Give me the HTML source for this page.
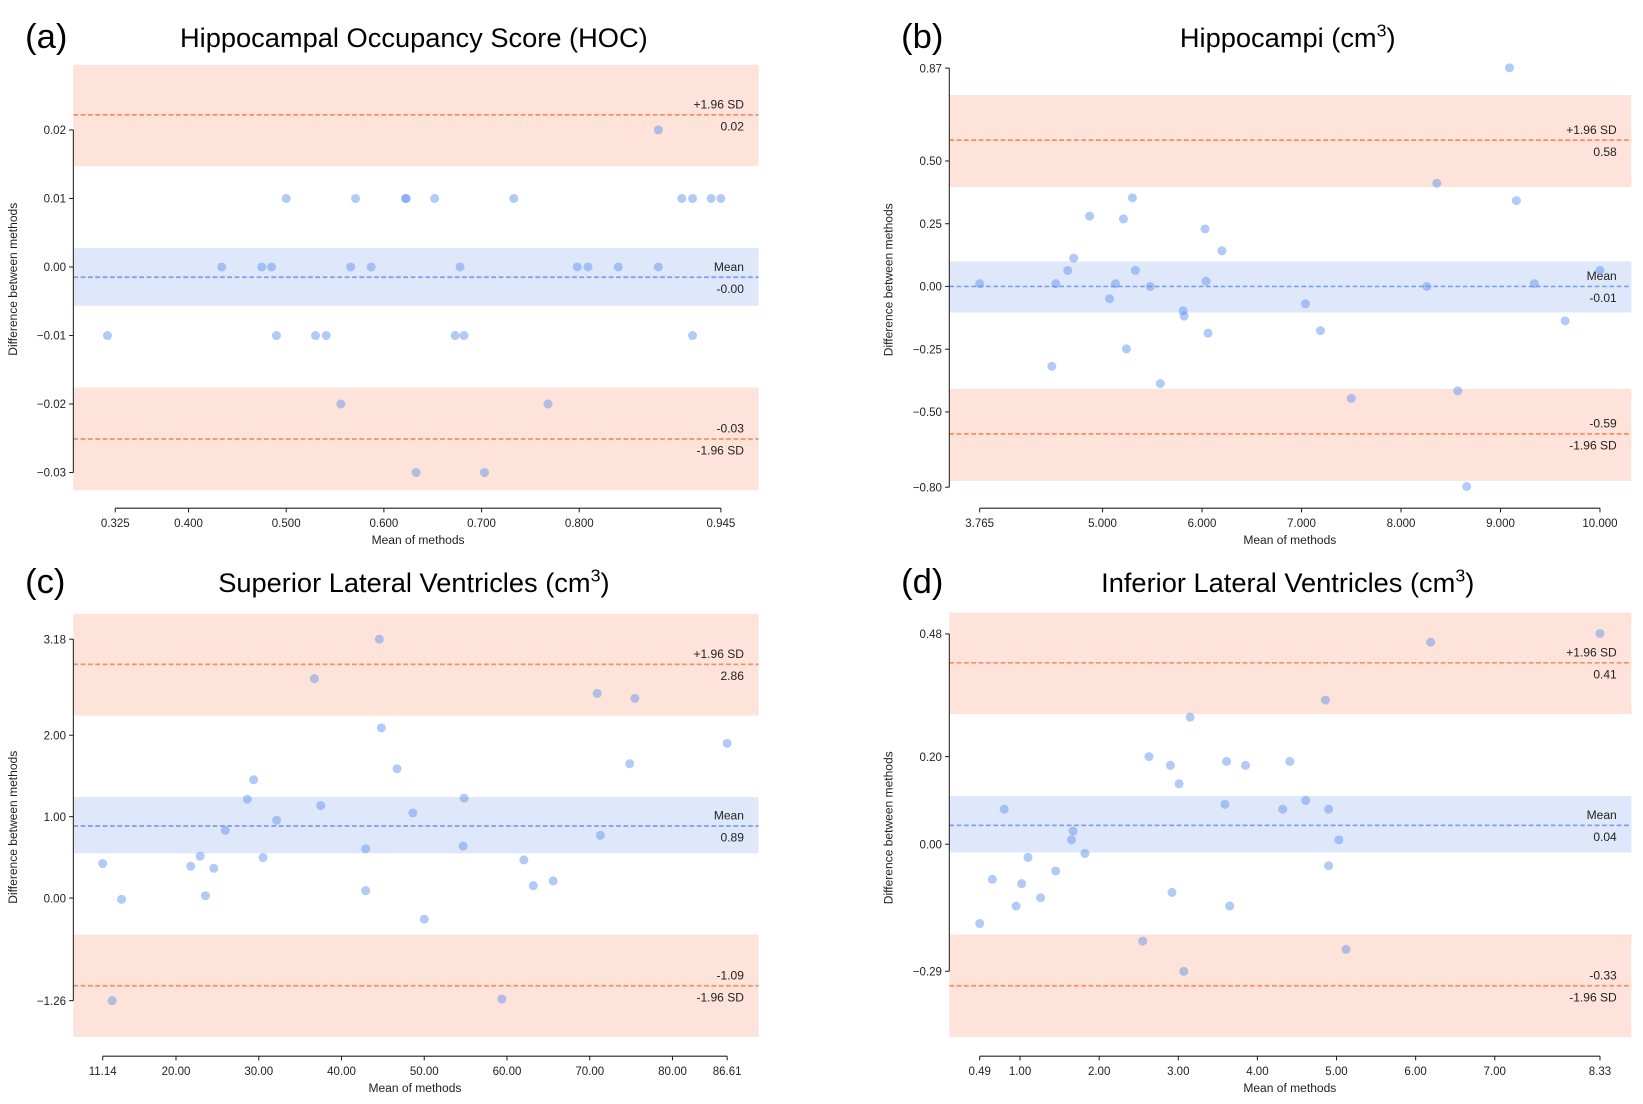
<!DOCTYPE html>
<html><head><meta charset="utf-8"><style>
html,body{margin:0;padding:0;background:#fff;}
svg{display:block;font-family:"Liberation Sans",sans-serif;}
</style></head><body>
<svg id="fig" width="1643" height="1104" viewBox="0 0 1643 1104" xmlns="http://www.w3.org/2000/svg"><g id="root" transform="scale(1.0478)"></g></svg>
<script>
// ---- data ----
const aMeans = [0.500,0.571,0.622,0.623,0.652,0.733,0.905,0.916,0.935,0.945, 0.434,0.475,0.485,0.566,0.587,0.678,0.798,0.809,0.840,0.881, 0.317,0.490,0.530,0.541,0.673,0.682,0.916, 0.881,0.556,0.768,0.633,0.703];
const aDiffs = [0.01,0.01,0.01,0.01,0.01,0.01,0.01,0.01,0.01,0.01, 0,0,0,0,0,0,0,0,0,0, -0.01,-0.01,-0.01,-0.01,-0.01,-0.01,-0.01, 0.02,-0.02,-0.02,-0.03,-0.03];
const aXTicks = [0.325,0.4,0.5,0.6,0.7,0.8,0.945];
const aXTickLabels = ["0.325","0.400","0.500","0.600","0.700","0.800","0.945"];
const aYTicks = [0.02,0.01,0,-0.01,-0.02,-0.03];
const aYTickLabels = ["0.02","0.01","0.00","\u22120.01","\u22120.02","\u22120.03"];
const aLimits = [0.0222,-0.0015,-0.0251];
const aLimitLabels = ["0.02","-0.00","-0.03"];
const aBands = [[0.0295,0.0147],[0.00275,-0.00566],[-0.0176,-0.0326]];

const bMeans = [3.765,4.49,4.53,4.65,4.71,4.87,5.07,5.13,5.21,5.24,5.30,5.33,5.48,5.58,5.81,5.82,6.03,6.04,6.06,6.20,7.04,7.19,7.50,8.26,8.36,8.57,8.66,9.09,9.16,9.34,9.65,10.0];
const bDiffs = [0.011,-0.318,0.011,0.064,0.113,0.280,-0.049,0.011,0.269,-0.249,0.353,0.064,0.0,-0.387,-0.097,-0.118,0.229,0.021,-0.186,0.142,-0.069,-0.176,-0.446,0.0,0.411,-0.416,-0.797,0.871,0.342,0.011,-0.137,0.064];
const bXTicks = [3.765,5,6,7,8,9,10];
const bXTickLabels = ["3.765","5.000","6.000","7.000","8.000","9.000","10.000"];
const bYTicks = [0.87,0.5,0.25,0,-0.25,-0.5,-0.8];
const bYTickLabels = ["0.87","0.50","0.25","0.00","\u22120.25","\u22120.50","\u22120.80"];
const bLimits = [0.583,0.0,-0.5875];
const bLimitLabels = ["0.58","-0.01","-0.59"];
const bBands = [[0.7625,0.396],[0.1,-0.104],[-0.408,-0.775]];

const cMeans = [11.14,12.28,13.42,21.78,22.92,23.56,24.57,25.96,28.62,29.38,30.52,32.16,36.72,37.49,42.92,42.92,44.57,44.82,46.72,48.62,50.01,54.70,54.82,59.38,62.04,63.18,65.58,70.90,71.28,74.83,75.46,86.61];
const cDiffs = [0.424,-1.26,-0.016,0.391,0.514,0.029,0.366,0.831,1.214,1.453,0.498,0.955,2.695,1.136,0.605,0.091,3.18,2.091,1.588,1.045,-0.259,0.638,1.226,-1.24,0.469,0.152,0.210,2.514,0.770,1.650,2.453,1.90];
const cXTicks = [11.14,20,30,40,50,60,70,80,86.61];
const cXTickLabels = ["11.14","20.00","30.00","40.00","50.00","60.00","70.00","80.00","86.61"];
const cYTicks = [3.18,2,1,0,-1.26];
const cYTickLabels = ["3.18","2.00","1.00","0.00","\u22121.26"];
const cLimits = [2.87,0.885,-1.077];
const cLimitLabels = ["2.86","0.89","-1.09"];
const cBands = [[3.49,2.24],[1.24,0.55],[-0.45,-1.705]];

const dMeans = [0.49,0.65,0.80,0.95,1.02,1.10,1.26,1.45,1.65,1.67,1.82,2.55,2.63,2.90,2.92,3.01,3.07,3.15,3.59,3.61,3.65,3.85,4.32,4.41,4.61,4.86,4.90,4.90,5.03,5.12,6.19,8.33];
const dDiffs = [-0.181,-0.080,0.080,-0.141,-0.090,-0.030,-0.122,-0.061,0.010,0.030,-0.021,-0.221,0.200,0.180,-0.110,0.138,-0.290,0.290,0.091,0.189,-0.141,0.180,0.080,0.189,0.100,0.329,0.080,-0.049,0.010,-0.240,0.461,0.481];
const dXTicks = [0.49,1,2,3,4,5,6,7,8.33];
const dXTickLabels = ["0.49","1.00","2.00","3.00","4.00","5.00","6.00","7.00","8.33"];
const dYTicks = [0.48,0.2,0,-0.29];
const dYTickLabels = ["0.48","0.20","0.00","\u22120.29"];
const dLimits = [0.414,0.043,-0.323];
const dLimitLabels = ["0.41","0.04","-0.33"];
const dBands = [[0.529,0.297],[0.110,-0.019],[-0.206,-0.440]];

const NS = "http://www.w3.org/2000/svg";
const root = document.getElementById('root');
function mk(tag, attrs, parent, text){
  const e = document.createElementNS(NS, tag);
  for (const k in attrs) e.setAttribute(k, attrs[k]);
  if (text !== undefined) e.textContent = text;
  (parent||root).appendChild(e);
  return e;
}

function panel(p){
  const g = mk('g', {});
  
  
  const xs = v => p.xPx[0] + (v - p.xTicks[0]) / (p.xTicks[p.xTicks.length-1] - p.xTicks[0]) * (p.xPx[1]-p.xPx[0]);
  const ys = v => p.yPx[0] + (v - p.yTicks[0]) / (p.yTicks[p.yTicks.length-1] - p.yTicks[0]) * (p.yPx[1]-p.yPx[0]);
  const bandNames = ['upper-loa-band','mean-band','lower-loa-band'];
  p.bands.forEach((b, i) => {
    const r = mk('rect', {x:p.bx[0], y:ys(b[0]), width:p.bx[1]-p.bx[0], height:ys(b[1])-ys(b[0]), fill: i===1 ? '#dfe8fa' : '#fee3da'}, g);
    
    
  });
  const lineNames = ['upper-loa-line','mean-line','lower-loa-line'];
  p.limits.forEach((v, i) => {
    const l = mk('line', {x1:p.bx[0], x2:p.bx[1], y1:ys(v), y2:ys(v), stroke: i===1 ? '#7b9ff0' : '#fc8d62', 'stroke-width':1.6, 'stroke-dasharray':'4.5,2.5'}, g);
    
    
  });
  const tx = p.bx[1] - 14;
  const topTxt = ['+1.96 SD','Mean','-1.96 SD'];
  p.limits.forEach((v, i) => {
    const y = ys(v);
    const isLower = i === 2;
    const t1 = mk('text', {x:tx, y: isLower ? y+15 : y-6, 'font-size':11.5, 'text-anchor':'end', fill:'#222'}, g, topTxt[i]);
    
    
    const t2 = mk('text', {x:tx, y: isLower ? y-6 : y+15, 'font-size':11.5, 'text-anchor':'end', fill:'#222'}, g, p.limitLabels[i]);
    
    
  });
  p.means.forEach((m, i) => {
    const c = mk('circle', {cx:xs(m), cy:ys(p.diffs[i]), r:4.3, fill:'#6495ed', 'fill-opacity':0.5}, g);
    
    
  });
  const ya = mk('line', {x1:p.yAxisX, x2:p.yAxisX, y1:p.yPx[0], y2:p.yPx[1], stroke:'#222', 'stroke-width':1}, g);
  
  
  p.yTicks.forEach((v, i) => {
    mk('line', {x1:p.yAxisX-4, x2:p.yAxisX, y1:ys(v), y2:ys(v), stroke:'#222'}, g);
    const t = mk('text', {x:p.yAxisX-7, y:ys(v)+4, 'font-size':11, 'text-anchor':'end', fill:'#222'}, g, p.yTickLabels[i]);
    
    
  });
  const xa = mk('line', {x1:p.xPx[0], x2:p.xPx[1], y1:p.xAxisY, y2:p.xAxisY, stroke:'#222', 'stroke-width':1}, g);
  
  
  p.xTicks.forEach((v, i) => {
    mk('line', {x1:xs(v), x2:xs(v), y1:p.xAxisY, y2:p.xAxisY+4, stroke:'#222'}, g);
    const t = mk('text', {x:xs(v), y:p.xAxisY+18, 'font-size':11, 'text-anchor':'middle', fill:'#222'}, g, p.xTickLabels[i]);
    
    
  });
  const xt = mk('text', {x:(p.xPx[0]+p.xPx[1])/2, y:p.xAxisY+34, 'font-size':11.5, 'text-anchor':'middle', fill:'#222'}, g, 'Mean of methods');
  
  
  const ymid = (p.yPx[0]+p.yPx[1])/2 + p.yTitleShift;
  const yt = mk('text', {x:p.yTitleX, y:ymid, 'font-size':11.5, 'text-anchor':'middle', fill:'#222', transform:`rotate(-90 ${p.yTitleX} ${ymid})`}, g, 'Difference between methods');
  
  
  const tl = mk('text', {x:p.letterX, y:p.titleY+10, 'font-size':33, fill:'#000'}, g, p.letter);
  
  
  const tt = mk('text', {x:p.titleX, y:p.titleY+9, 'font-size':26, 'text-anchor':'middle', fill:'#000'}, g);
  
  
  tt.textContent = p.title;
  if (p.sup) {
    mk('tspan', {dy:-10, 'font-size':17}, tt, '3');
    mk('tspan', {dy:10}, tt, ')');
  }
}

panel({name:'panel-a-hoc', letter:'(a)', letterX:24, title:'Hippocampal Occupancy Score (HOC)', sup:false, titleX:395, titleY:36,
  means:aMeans, diffs:aDiffs, xTicks:aXTicks, xTickLabels:aXTickLabels, yTicks:aYTicks, yTickLabels:aYTickLabels,
  limits:aLimits, limitLabels:aLimitLabels, bands:aBands,
  xPx:[110,688], yPx:[124,451], bx:[70,724], yAxisX:70, xAxisY:485, yTitleX:16, yTitleShift:-21});
panel({name:'panel-b-hippocampi', letter:'(b)', letterX:860, title:'Hippocampi (cm', sup:true, titleX:1229, titleY:36,
  means:bMeans, diffs:bDiffs, xTicks:bXTicks, xTickLabels:bXTickLabels, yTicks:bYTicks, yTickLabels:bYTickLabels,
  limits:bLimits, limitLabels:bLimitLabels, bands:bBands,
  xPx:[935,1527], yPx:[65,465], bx:[906,1557], yAxisX:906, xAxisY:485, yTitleX:852, yTitleShift:2});
panel({name:'panel-c-superior-lateral-ventricles', letter:'(c)', letterX:24, title:'Superior Lateral Ventricles (cm', sup:true, titleX:395, titleY:556,
  means:cMeans, diffs:cDiffs, xTicks:cXTicks, xTickLabels:cXTickLabels, yTicks:cYTicks, yTickLabels:cYTickLabels,
  limits:cLimits, limitLabels:cLimitLabels, bands:cBands,
  xPx:[98,694], yPx:[610,955], bx:[70,724], yAxisX:70, xAxisY:1008, yTitleX:16, yTitleShift:7});
panel({name:'panel-d-inferior-lateral-ventricles', letter:'(d)', letterX:860, title:'Inferior Lateral Ventricles (cm', sup:true, titleX:1229, titleY:556,
  means:dMeans, diffs:dDiffs, xTicks:dXTicks, xTickLabels:dXTickLabels, yTicks:dYTicks, yTickLabels:dYTickLabels,
  limits:dLimits, limitLabels:dLimitLabels, bands:dBands,
  xPx:[935,1527], yPx:[605,927], bx:[906,1557], yAxisX:906, xAxisY:1008, yTitleX:852, yTitleShift:24});
</script>
</body></html>
